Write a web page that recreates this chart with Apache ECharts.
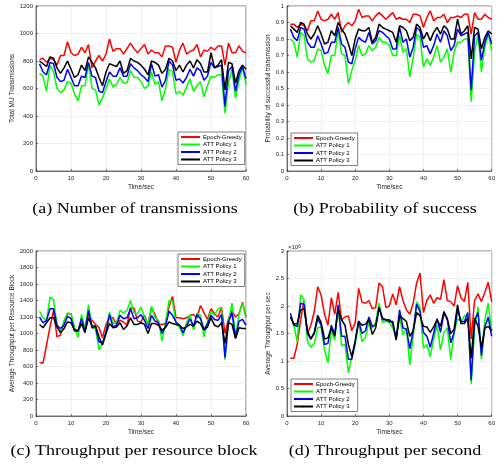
<!DOCTYPE html>
<html>
<head>
<meta charset="utf-8">
<script src="https://cdn.jsdelivr.net/npm/echarts@6/dist/echarts.min.js"></script>
<style>
  html, body { margin: 0; padding: 0; background: #fff; }
  #chart { width: 498px; height: 467px; }
</style>
</head>
<body>
<div id="chart"></div>
<script>
// time axis (seconds)
const time = [1,2,3,4,5,6,7,8,9,10,11,12,13,14,15,16,17,18,19,20,
  21,22,23,24,25,26,27,28,29,30,31,32,33,34,35,36,37,38,39,40,
  41,42,43,44,45,46,47,48,49,50,51,52,53,54,55,56,57,58,59,60];

const seriesNames = ["Epoch-Greedy", "ATT Policy 1", "ATT Policy 2", "ATT Policy 3"];

// (a) total MU transmissions
const transEG = [810,820,790,820,810,770,840,840,940,860,840,850,900,860,920,750,800,840,800,850,
  960,870,890,890,850,890,930,890,860,890,920,850,880,860,860,830,910,910,900,790,
  880,930,850,870,880,920,830,880,870,900,880,910,910,770,930,860,860,910,870,860];
const transP1 = [710,690,580,770,720,600,570,590,650,640,560,510,620,620,780,600,590,480,530,600,
  670,610,630,680,640,640,730,680,680,650,600,620,720,630,650,510,600,740,720,560,
  580,550,610,670,580,620,650,540,620,690,680,700,700,420,640,740,530,660,750,630];
const transP2 = [780,720,700,790,780,680,650,660,740,680,620,620,690,680,790,690,680,580,570,650,
  720,690,690,750,690,690,780,750,730,700,680,650,780,690,700,610,660,800,770,660,
  670,640,680,740,690,750,730,660,690,790,750,760,770,470,730,760,580,700,760,670];
const transP3 = [800,780,760,830,820,750,710,750,800,740,680,700,770,730,830,790,750,680,620,720,
  780,770,760,800,710,730,820,800,790,770,740,700,800,790,770,710,740,820,800,730,
  770,720,770,800,750,810,780,720,720,860,750,770,810,590,790,780,640,730,770,740];

// (b) probability of successful transmission
const probEG = [0.89,0.89,0.87,0.89,0.88,0.85,0.91,0.91,0.97,0.92,0.91,0.92,0.95,0.92,0.96,0.84,0.88,0.90,0.88,0.91,
  0.98,0.93,0.94,0.94,0.91,0.94,0.96,0.94,0.92,0.94,0.96,0.92,0.93,0.92,0.92,0.90,0.95,0.95,0.94,0.87,
  0.93,0.97,0.91,0.93,0.93,0.95,0.90,0.93,0.93,0.94,0.93,0.95,0.95,0.83,0.96,0.92,0.92,0.95,0.93,0.92];
const probP1 = [0.80,0.78,0.69,0.84,0.82,0.68,0.66,0.67,0.74,0.73,0.64,0.59,0.70,0.70,0.85,0.71,0.70,0.53,0.61,0.67,
  0.76,0.70,0.71,0.76,0.73,0.75,0.81,0.78,0.78,0.76,0.70,0.70,0.82,0.72,0.74,0.57,0.69,0.83,0.81,0.63,
  0.68,0.64,0.69,0.76,0.66,0.69,0.74,0.60,0.72,0.78,0.78,0.80,0.80,0.42,0.72,0.83,0.60,0.75,0.83,0.73];
const probP2 = [0.86,0.81,0.79,0.87,0.86,0.78,0.75,0.75,0.82,0.77,0.71,0.72,0.78,0.78,0.87,0.77,0.75,0.66,0.65,0.74,
  0.81,0.79,0.78,0.84,0.77,0.79,0.85,0.84,0.82,0.80,0.74,0.74,0.87,0.78,0.80,0.69,0.75,0.87,0.85,0.75,
  0.76,0.71,0.76,0.83,0.78,0.85,0.82,0.73,0.76,0.86,0.82,0.83,0.84,0.49,0.82,0.84,0.67,0.78,0.84,0.77];
const probP3 = [0.88,0.86,0.84,0.90,0.89,0.83,0.80,0.83,0.88,0.83,0.77,0.78,0.85,0.82,0.90,0.86,0.83,0.77,0.70,0.80,
  0.86,0.85,0.85,0.87,0.78,0.81,0.89,0.87,0.86,0.85,0.84,0.78,0.88,0.87,0.85,0.79,0.81,0.89,0.87,0.80,
  0.84,0.79,0.84,0.87,0.83,0.88,0.86,0.80,0.80,0.92,0.83,0.85,0.88,0.68,0.87,0.86,0.74,0.81,0.85,0.83];

// (c) average throughput per resource block
const rbEG = [650,640,860,1080,1280,960,980,1150,1240,1240,1060,1020,1120,1090,1230,1160,1110,1070,950,1110,
  1200,1190,1110,1160,1140,1100,1310,1310,1150,1140,1220,1110,1310,1230,1110,1110,1120,1320,1450,1190,
  1190,1180,1190,1220,1230,1190,1340,1250,1170,1300,1240,1200,1320,1000,1180,1280,1200,1240,1380,1200];
const rbP1 = [1270,1190,1150,1440,1410,1100,1010,1150,1250,1240,1080,950,1230,1060,1350,1070,1060,800,890,1010,
  1260,1120,1130,1280,1250,1280,1400,1250,1240,1320,1200,1110,1330,1190,1160,910,1130,1400,1390,1120,
  1080,970,1130,1230,1040,1250,1220,960,1150,1270,1220,1300,1310,680,1150,1370,960,1230,1370,1190];
const rbP2 = [1200,1130,1160,1300,1300,1100,1060,1100,1210,1180,1030,1030,1180,1020,1280,1070,1080,900,880,1020,
  1230,1080,1100,1220,1180,1190,1300,1180,1190,1230,1160,1060,1220,1150,1130,1000,1090,1270,1220,1140,
  1100,1010,1090,1180,1090,1230,1180,1050,1120,1220,1170,1160,1230,710,1140,1250,950,1150,1170,1100];
const rbP3 = [1110,1070,1130,1190,1190,1080,1010,1060,1140,1130,1040,1040,1120,1010,1190,1090,1090,960,860,1000,
  1120,1070,1080,1130,1050,1090,1190,1110,1110,1130,1110,1000,1120,1120,1100,1040,1070,1140,1120,1110,
  1100,1060,1080,1110,1090,1150,1120,1040,1080,1190,1100,1080,1130,880,1130,1110,940,1070,1060,1060];

// (d) average throughput per second, x10^6
const secEG = [1.05,1.05,1.30,1.75,2.10,1.50,1.65,1.90,2.35,2.20,1.85,1.65,2.15,1.85,2.25,1.75,1.80,1.82,1.55,1.70,
  2.32,2.07,2.05,2.10,1.95,1.97,2.42,2.35,1.97,2.00,2.22,2.02,2.35,2.10,1.93,1.85,2.05,2.42,2.60,1.88,
  2.10,2.20,2.05,2.15,2.12,2.48,2.10,2.08,2.00,2.37,2.15,2.08,2.43,1.40,2.10,2.22,2.08,2.25,2.43,2.08];
const secP1 = [1.80,1.65,1.35,2.20,2.12,1.35,1.25,1.32,1.60,1.62,1.20,0.97,1.55,1.38,2.00,1.28,1.30,0.79,1.08,1.30,
  1.70,1.35,1.43,1.70,1.60,1.70,2.05,1.70,1.72,1.70,1.60,1.45,1.80,1.47,1.60,0.93,1.45,2.08,1.97,1.23,
  1.30,1.08,1.40,1.65,1.20,1.52,1.60,1.03,1.52,1.77,1.72,1.82,1.85,0.58,1.60,1.98,1.03,1.75,2.05,1.55];
const secP2 = [1.87,1.65,1.63,2.05,2.03,1.50,1.40,1.50,1.77,1.65,1.30,1.32,1.65,1.48,2.02,1.45,1.45,1.03,1.03,1.35,
  1.73,1.50,1.55,1.80,1.63,1.65,1.98,1.75,1.75,1.75,1.68,1.40,1.93,1.60,1.58,1.22,1.55,2.03,1.90,1.52,
  1.45,1.25,1.50,1.77,1.52,1.87,1.75,1.33,1.52,1.93,1.72,1.72,1.88,0.65,1.75,1.88,1.10,1.62,1.80,1.45];
const secP3 = [1.80,1.67,1.68,1.93,1.95,1.55,1.40,1.52,1.83,1.70,1.40,1.42,1.60,1.45,1.95,1.75,1.65,1.30,1.08,1.37,
  1.72,1.65,1.67,1.75,1.48,1.60,1.97,1.78,1.75,1.72,1.72,1.38,1.82,1.77,1.72,1.45,1.55,1.88,1.82,1.63,
  1.62,1.52,1.62,1.75,1.63,1.90,1.77,1.50,1.58,2.02,1.68,1.68,1.78,1.05,1.78,1.63,1.25,1.60,1.63,1.55];

const captions = ["(a) Number of transmissions", "(b) Probability of success",
  "(c) Throughput per resource block", "(d) Throughput per second"];

const colors = ["#ff0000", "#00ff00", "#0000ff", "#000000"];
const textColor = "#262626";

const panels = [
  { data: [transEG, transP1, transP2, transP3], max: 1200, step: 200, yName: "Total MU Transmissions", nameGap: 20,
    grid: { left: 36, top: 6 }, legend: { left: 178, top: 132 }, cap: { x: 135, y: 209 } },
  { data: [probEG, probP1, probP2, probP3], max: 1, step: 0.1, yName: "Probability of successful transmission", nameGap: 15,
    grid: { left: 287, top: 6 }, legend: { left: 291, top: 133 }, cap: { x: 385, y: 209 } },
  { data: [rbEG, rbP1, rbP2, rbP3], max: 2000, step: 200, yName: "Average Throughput per Resource Block", nameGap: 20,
    grid: { left: 36, top: 251 }, legend: { left: 178, top: 254 }, cap: { x: 134, y: 451 } },
  { data: [secEG, secP1, secP2, secP3], max: 3, step: 0.5, yName: "Average Throughput per sec", nameGap: 15,
    grid: { left: 287, top: 251 }, legend: { left: 291, top: 379 }, cap: { x: 385, y: 451 } },
];

const grids = [], xAxes = [], yAxes = [], series = [], legends = [], graphics = [];
panels.forEach(function (p, i) {
  grids.push({
    left: p.grid.left, top: p.grid.top, width: 210, height: 165,
    show: true, borderColor: "#262626", borderWidth: 0.6, backgroundColor: "#fff",
  });
  xAxes.push({
    gridIndex: i, type: "value", min: 0, max: 60, interval: 10,
    name: "Time/sec", nameLocation: "middle", nameGap: 13,
    nameTextStyle: { fontSize: 6.5, color: textColor, fontFamily: "Liberation Sans" },
    axisLine: { lineStyle: { color: "#262626", width: 0.6 } },
    axisTick: { inside: true, length: 2, lineStyle: { color: "#262626", width: 0.6 } },
    axisLabel: { fontSize: 6, color: textColor, margin: 4, fontFamily: "Liberation Sans" },
    splitLine: { show: true, lineStyle: { color: "#e6e6e6", width: 0.6 } },
  });
  yAxes.push({
    gridIndex: i, type: "value", min: 0, max: p.max, interval: p.step,
    name: p.yName, nameLocation: "middle", nameGap: p.nameGap,
    nameTextStyle: { fontSize: 6.5, color: textColor, fontFamily: "Liberation Sans" },
    axisLine: { show: true, lineStyle: { color: "#262626", width: 0.6 } },
    axisTick: { show: true, inside: true, length: 2, lineStyle: { color: "#262626", width: 0.6 } },
    axisLabel: {
      fontSize: 6, color: textColor, margin: 3, fontFamily: "Liberation Sans",
      formatter: function (v) { return String(Math.round(v * 1000) / 1000); },
    },
    splitLine: { show: true, lineStyle: { color: "#e6e6e6", width: 0.6 } },
  });
  p.data.forEach(function (vals, k) {
    series.push({
      name: seriesNames[k], type: "line", xAxisIndex: i, yAxisIndex: i,
      symbol: "none", animation: false,
      lineStyle: { color: colors[k], width: 1.5 },
      itemStyle: { color: colors[k] },
      data: vals.map(function (v, j) { return [time[j], v]; }),
    });
  });
  legends.push({
    data: seriesNames, orient: "vertical", left: p.legend.left, top: p.legend.top,
    itemWidth: 19, itemHeight: 2, itemGap: 1.5, padding: [2, 3, 2, 2],
    backgroundColor: "#fff", borderColor: "#262626", borderWidth: 0.6, borderRadius: 0,
    textStyle: { fontSize: 6, color: "#000", fontFamily: "Liberation Sans", padding: [0, 0, 0, -2] },
    selectedMode: false,
  });
  // subfigure caption (stretched a little, as in the paper)
  graphics.push({
    type: "text", x: p.cap.x, y: p.cap.y, scaleX: 1.2,
    style: {
      text: captions[i], fontSize: 15, fontFamily: "Liberation Serif", fill: "#000",
      textAlign: "center", textVerticalAlign: "middle",
    },
  });
});

// exponent label of panel (d)
graphics.push({
  type: "text", left: 288, top: 244,
  style: {
    rich: { e: { fontSize: 4.5, verticalAlign: "top", fill: textColor } },
    text: "×10{e|6}", fontSize: 6, fill: textColor, fontFamily: "Liberation Sans",
  },
});

let mychart = echarts.init(document.getElementById("chart"), null, { renderer: "canvas" });
mychart.setOption({
  backgroundColor: "#fff",
  animation: false,
  grid: grids,
  xAxis: xAxes,
  yAxis: yAxes,
  legend: legends,
  series: series,
  graphic: graphics,
});
</script>
</body>
</html>
